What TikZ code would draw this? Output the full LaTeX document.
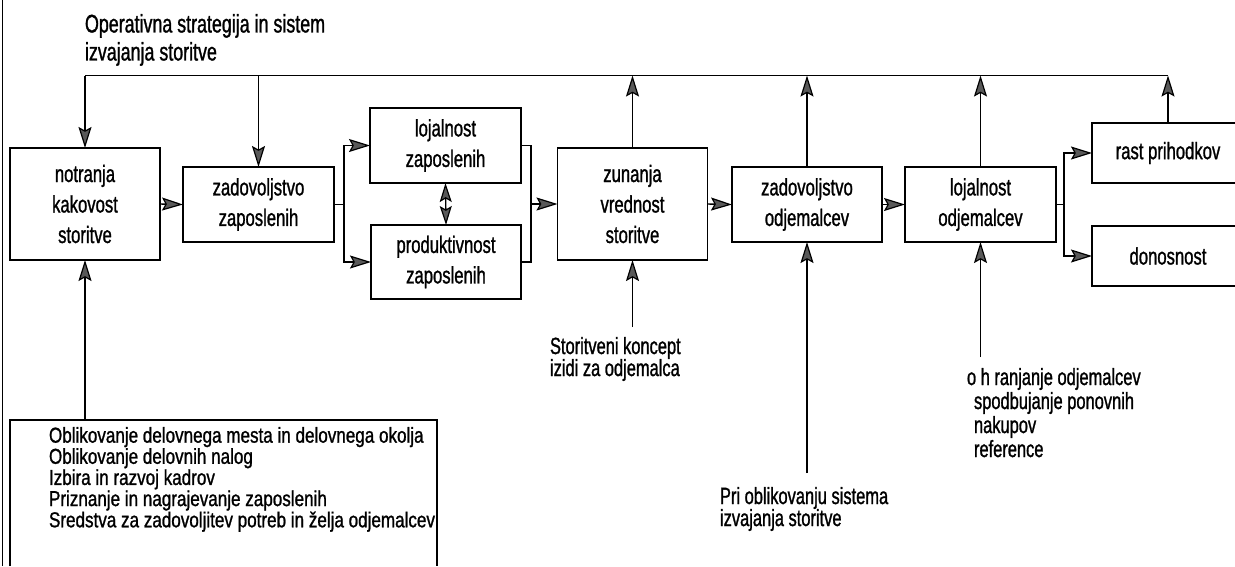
\documentclass[tikz,border=0pt]{standalone}
\usepackage{fontspec}
\setmainfont[FakeStretch=0.70,FakeBold=1.1]{Liberation Sans}
\newfontfamily\botfam[FakeStretch=0.79,FakeBold=1.1]{Liberation Sans}
\usetikzlibrary{arrows.meta}
\newcommand\bxfont{\fontsize{23.8}{30.5}\selectfont}
\newcommand\lblfont{\fontsize{23.5}{22}\selectfont}
\newcommand\ohrfont{\fontsize{23.5}{24}\selectfont}
\newcommand\botfont{\botfam\fontsize{21.6}{19.8}\selectfont}
\newcommand\ttlfont{\fontsize{25.5}{28}\selectfont}
\begin{document}
\begin{tikzpicture}[x=1pt,y=-1pt,
  every node/.style={inner sep=0pt, outer sep=0pt},
  line/.style={line width=1.4pt, draw=black},
  arr/.style={line width=1.4pt, -{Stealth[length=21pt,width=13pt,inset=3.5pt,fill=black!65,line width=1.2pt]}},
  darr/.style={line width=1.4pt, {Stealth[length=19pt,width=12pt,inset=3.5pt,fill=black!65,line width=1.2pt]}-{Stealth[length=19pt,width=12pt,inset=3.5pt,fill=black!65,line width=1.2pt]}},
  box/.style={draw, line width=1.4pt, align=center, font=\bxfont},
  openbox/.style={align=center, font=\bxfont},
  lbl/.style={anchor=north west, align=left, font=\lblfont}
]
\useasboundingbox (0,0) rectangle (1235,566);
\coordinate (R) at (1235,0);
% page edge
\draw[line] (2.5,0) -- (2.5,566);
% title
\node[anchor=north west, align=left, font=\ttlfont] (title) at (85,14) {Operativna strategija in sistem\\izvajanja storitve};
% boxes
\node[box, minimum width=150pt, minimum height=112pt] (notr) at (85,204) {notranja\\kakovost\\storitve};
\node[box, minimum width=151pt, minimum height=75pt] (zadz) at (258.5,204.5) {zadovoljstvo\\zaposlenih};
\node[box, minimum width=151pt, minimum height=75pt] (lojz) at (445.5,145.5) {lojalnost\\zaposlenih};
\node[box, minimum width=150pt, minimum height=74pt] (prodz) at (446,262) {produktivnost\\zaposlenih};
\node[box, minimum width=150pt, minimum height=112pt] (zun) at (632.5,204) {zunanja\\vrednost\\storitve};
\node[box, minimum width=150pt, minimum height=75pt] (zado) at (807,204.5) {zadovoljstvo\\odjemalcev};
\node[box, minimum width=151pt, minimum height=75pt] (lojo) at (980.5,204.5) {lojalnost\\odjemalcev};
\node[openbox, minimum width=152pt, minimum height=60pt] (rast) at (1168,153) {rast prihodkov};
\node[openbox, minimum width=152pt, minimum height=60pt] (dono) at (1168,256) {donosnost};
\draw[line] (rast.north west -| R) -- (rast.north west) -- (rast.south west) -- (rast.south west -| R);
\draw[line] (dono.north west -| R) -- (dono.north west) -- (dono.south west) -- (dono.south west -| R);
% bottom box
\coordinate (bbl) at (10,420);
\coordinate (bbr) at (437,420);
\draw[line] (bbl |- 0,566) -- (bbl) -- (bbr) -- (bbr |- 0,566);
\node[anchor=north west, align=left, font=\botfont] (bot) at (49,427) {Oblikovanje delovnega mesta in delovnega okolja\\Oblikovanje delovnih nalog\\Izbira in razvoj kadrov\\Priznanje in nagrajevanje zaposlenih\\Sredstva za zadovoljitev potreb in želja odjemalcev};
% labels
\node[lbl] (stor) at (550,337) {Storitveni koncept\\izidi za odjemalca};
\node[lbl] (pri) at (720,487) {Pri oblikovanju sistema\\izvajanja storitve};
\node[lbl, font=\ohrfont] (ohr) at (967,368) {o h ranjanje odjemalcev\\\hspace*{7pt}spodbujanje ponovnih\\\hspace*{7pt}nakupov\\\hspace*{7pt}reference};
% top line
\coordinate (tl) at (85,75.5);
\coordinate (tr) at (1168,75.5);
\draw[line] (tl) -- (tr);
\draw[arr] (tl) -- (notr.north);
\draw[arr] (zadz.north |- tl) -- (zadz.north);
\draw[arr] (zun.north) -- (zun.north |- tl);
\draw[arr] (zado.north) -- (zado.north |- tl);
\draw[arr] (lojo.north) -- (lojo.north |- tl);
\draw[arr] (rast.north) -- (tr);
% horizontal chain
\draw[arr] (notr.east) -- (zadz.west);
\coordinate (f1) at (344,204.5);
\draw[line] (zadz.east) -- (f1);
\draw[arr] (f1) |- (lojz.west);
\draw[arr] (f1) |- (prodz.west);
\draw[darr] (lojz.south) -- (prodz.north);
\coordinate (j1) at (531,204);
\draw[line] (lojz.east) -| (j1) |- (prodz.east);
\draw[arr] (j1) -- (zun.west);
\draw[arr] (zun.east) -- (zado.west);
\draw[arr] (zado.east) -- (lojo.west);
\coordinate (f2) at (1064,204.5);
\draw[line] (lojo.east) -- (f2);
\draw[arr] (f2) |- (rast.west);
\draw[arr] (f2) |- (dono.west);
% bottom inputs
\coordinate (c0) at (85,420);
\coordinate (c1) at (632.5,327);
\coordinate (c2) at (807,473);
\coordinate (c3) at (980.5,357);
\draw[arr] (c0) -- (notr.south);
\draw[arr] (c1) -- (zun.south);
\draw[arr] (c2) -- (zado.south);
\draw[arr] (c3) -- (lojo.south);
\end{tikzpicture}
\end{document}
